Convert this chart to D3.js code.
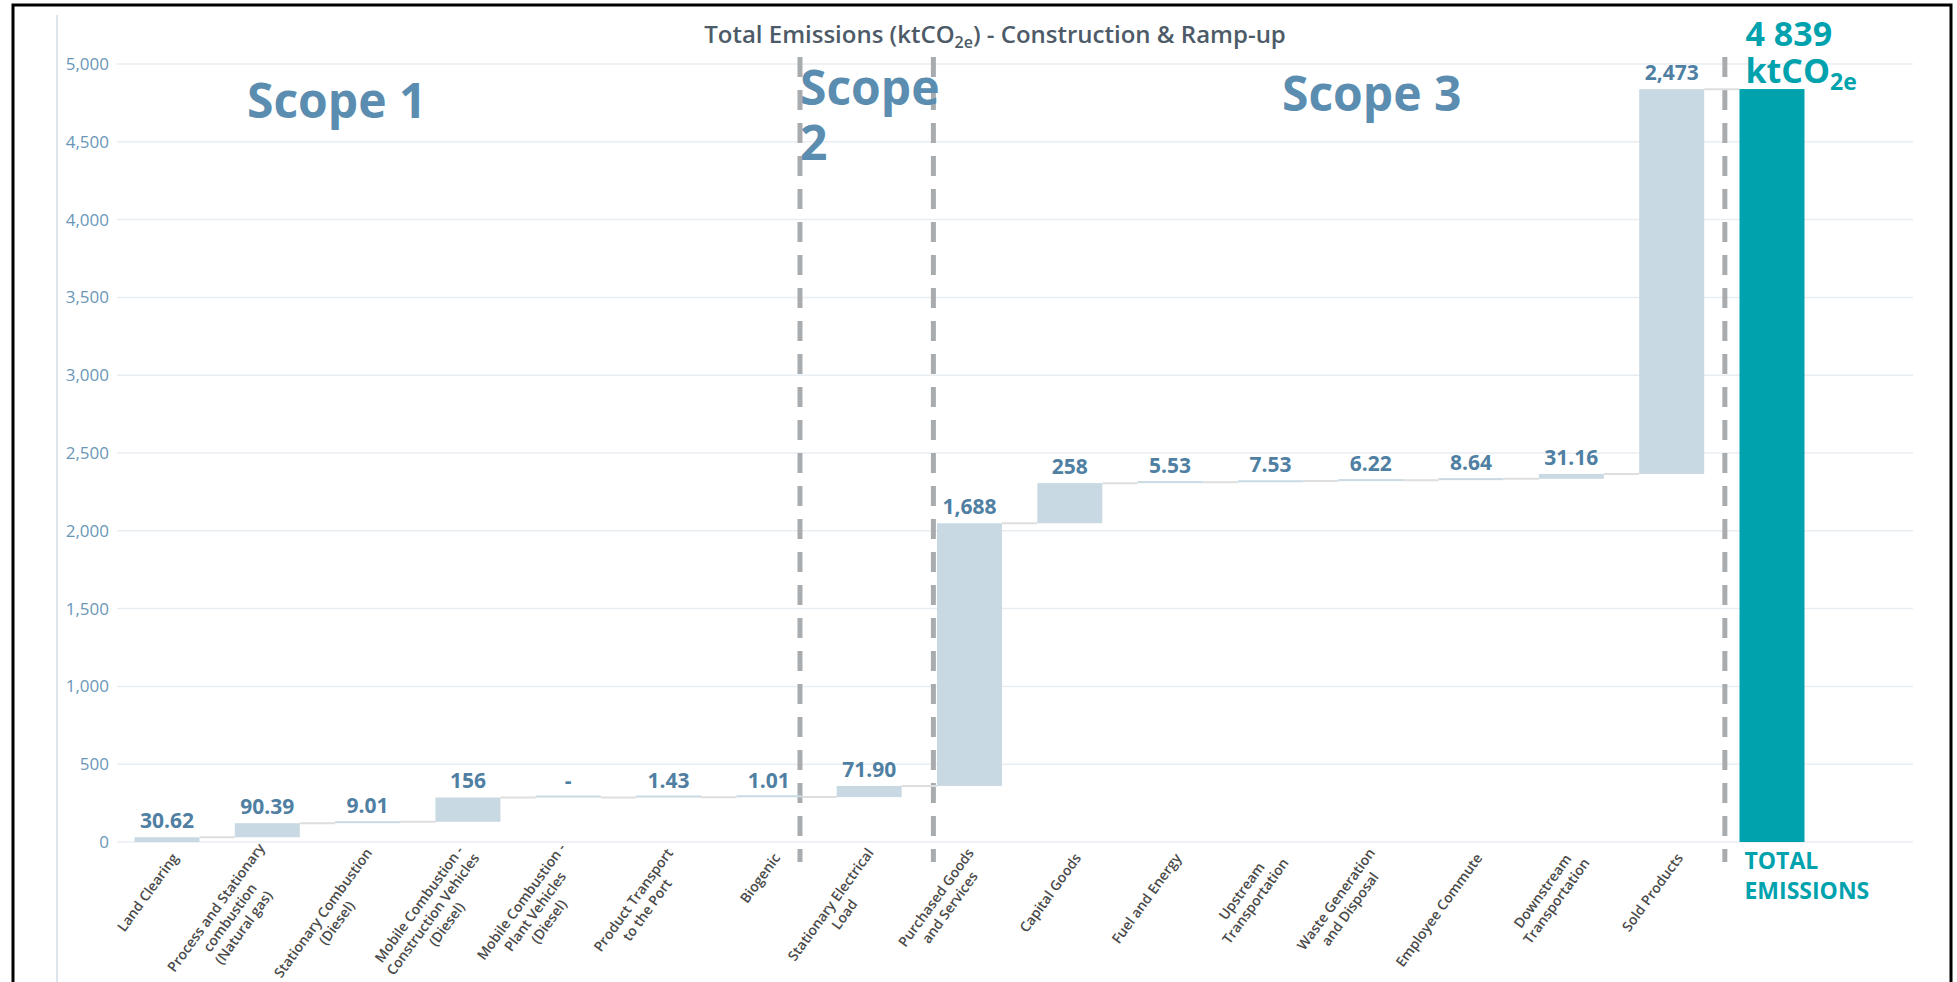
<!DOCTYPE html>
<html>
<head>
<meta charset="utf-8">
<script src="https://cdn.jsdelivr.net/npm/d3@7"></script>
<style>
  html, body { margin: 0; padding: 0; background: #fff; }
  svg { display: block; font-family: "Open Sans", "Noto Sans", sans-serif; }
</style>
</head>
<body>
<svg id="chart" width="1957" height="982"></svg>
<script>
// ---- data -------------------------------------------------------------
const categories = [
  "Land Clearing",
  "Process and Stationary combustion (Natural gas)",
  "Stationary Combustion (Diesel)",
  "Mobile Combustion - Construction Vehicles (Diesel)",
  "Mobile Combustion - Plant Vehicles (Diesel)",
  "Product Transport to the Port",
  "Biogenic",
  "Stationary Electrical Load",
  "Purchased Goods and Services",
  "Capital Goods",
  "Fuel and Energy",
  "Upstream Transportation",
  "Waste Generation and Disposal",
  "Employee Commute",
  "Downstream Transportation",
  "Sold Products"
];
// wrapped axis label lines for each category
const categoryLines = [
  ["Land Clearing"],
  ["Process and Stationary", "combustion", "(Natural gas)"],
  ["Stationary Combustion", "(Diesel)"],
  ["Mobile Combustion -", "Construction Vehicles", "(Diesel)"],
  ["Mobile Combustion -", "Plant Vehicles", "(Diesel)"],
  ["Product Transport", "to the Port"],
  ["Biogenic"],
  ["Stationary Electrical", "Load"],
  ["Purchased Goods", "and Services"],
  ["Capital Goods"],
  ["Fuel and Energy"],
  ["Upstream", "Transportation"],
  ["Waste Generation", "and Disposal"],
  ["Employee Commute"],
  ["Downstream", "Transportation"],
  ["Sold Products"]
];
const values = [30.62, 90.39, 9.01, 156, 0, 1.43, 1.01, 71.90, 1688, 258, 5.53, 7.53, 6.22, 8.64, 31.16, 2473];
const totalName = "TOTAL EMISSIONS";
const totalValue = 4839;   // reported total (ktCO2e)
const yTicks = [0, 500, 1000, 1500, 2000, 2500, 3000, 3500, 4000, 4500, 5000];
const scopeNames = ["Scope 1", "Scope 2", "Scope 3"];

// ---- colours ----------------------------------------------------------
const C = {
  bar: "#c9d9e3",
  total: "#00a2ae",
  connector: "#dedede",
  grid: "#e8edf2",
  tick: "#6a97b8",
  value: "#4f7fa2",
  scope: "#5b8db0",
  title: "#4d5b68",
  xlabel: "#4a4a4a",
  sep: "#a9acaf"
};

// ---- waterfall steps ---------------------------------------------------
let run = 0;
const steps = values.map((v, i) => {
  const s = { name: categories[i], lines: categoryLines[i], value: v, start: run, end: run + v };
  run += v;
  return s;
});

// ---- scales -----------------------------------------------------------
const svg = d3.select("#chart");
const plotLeft = 117, plotRight = 1913;
const x = d3.scaleBand()
  .domain([...categories, totalName])
  .range([116.85, 1822.15])
  .paddingInner(0.352)
  .paddingOuter(0.176);
const bw = x.bandwidth();
const cx = name => x(name) + bw / 2;
const y = d3.scaleLinear().domain([0, 5000]).range([842, 64]);

// ---- frame ------------------------------------------------------------
svg.append("path")
  .attr("d", "M13,982 V5 H1951 V982")
  .attr("fill", "none").attr("stroke", "#000").attr("stroke-width", 3);
svg.append("line")
  .attr("x1", 57).attr("x2", 57).attr("y1", 15).attr("y2", 982)
  .attr("stroke", "#dde5ec").attr("stroke-width", 2);

// ---- grid + y axis ----------------------------------------------------
const yAxis = d3.axisLeft(y).tickValues(yTicks).tickFormat(d3.format(",")).tickSize(0).tickPadding(8);
const gy = svg.append("g").attr("transform", `translate(${plotLeft},0)`).call(yAxis);
gy.select(".domain").remove();
gy.selectAll("text")
  .attr("fill", C.tick).style("font-size", "17px").style("font-family", "'Open Sans', sans-serif");
svg.append("g").selectAll("line").data(yTicks).join("line")
  .attr("x1", plotLeft).attr("x2", plotRight)
  .attr("y1", d => y(d)).attr("y2", d => y(d))
  .attr("stroke", C.grid).attr("stroke-width", 1.5);

// ---- title ------------------------------------------------------------
const title = svg.append("text")
  .attr("x", 995).attr("y", 43).attr("text-anchor", "middle")
  .attr("fill", C.title).style("font-size", "24px").style("font-weight", 600);
title.append("tspan").text("Total Emissions (ktCO");
title.append("tspan").attr("dy", 5).style("font-size", "16px").text("2e");
title.append("tspan").attr("dy", -5).text(") - Construction & Ramp-up");

// ---- scope separators -------------------------------------------------
const separators = [
  { after: categories[6], offset: 0.31 },
  { after: categories[7], offset: 0.64 },
  { after: categories[15], offset: 0.53 }
];
svg.append("g").selectAll("line").data(separators).join("line")
  .attr("x1", d => cx(d.after) + d.offset * x.step())
  .attr("x2", d => cx(d.after) + d.offset * x.step())
  .attr("y1", 57).attr("y2", 862)
  .attr("stroke", C.sep).attr("stroke-width", 5)
  .attr("stroke-dasharray", "20,13");

// ---- scope headings ---------------------------------------------------
const scopeG = svg.append("g")
  .attr("fill", C.scope).style("font-size", "48px").style("font-weight", 700);
scopeG.append("text").attr("x", 247).attr("y", 118).text(scopeNames[0]);
const s2 = scopeG.append("text").attr("x", 800).attr("y", 105);
scopeNames[1].split(" ").forEach((w, i) => {
  s2.append("tspan").attr("x", 800).attr("dy", i ? 55 : 0).text(w);
});
scopeG.append("text").attr("x", 1282).attr("y", 111).text(scopeNames[2]);

// ---- connectors -------------------------------------------------------
const order = steps.map(s => ({ name: s.name, level: s.end }));
svg.append("g").selectAll("line").data(order).join("line")
  .attr("x1", d => x(d.name) + bw)
  .attr("x2", (d, i) => x(i + 1 < order.length ? order[i + 1].name : totalName))
  .attr("y1", d => y(d.level)).attr("y2", d => y(d.level))
  .attr("stroke", C.connector).attr("stroke-width", 2);

// ---- bars -------------------------------------------------------------
svg.append("g").selectAll("rect").data(steps).join("rect")
  .attr("x", d => x(d.name))
  .attr("width", bw)
  .attr("y", d => Math.min(y(d.end), y(d.start) - 2))
  .attr("height", d => Math.max(2, y(d.start) - y(d.end)))
  .attr("fill", C.bar);

svg.append("rect")
  .attr("x", x(totalName)).attr("width", bw)
  .attr("y", y(totalValue)).attr("height", y(0) - y(totalValue))
  .attr("fill", C.total);

// ---- value labels -----------------------------------------------------
const fmtVal = v => v === 0 ? "-" : v >= 100 ? d3.format(",.0f")(v) : d3.format(".2f")(v);
svg.append("g").selectAll("text").data(steps).join("text")
  .attr("x", d => cx(d.name))
  .attr("y", d => y(d.end) - 9)
  .attr("text-anchor", "middle")
  .attr("fill", C.value)
  .style("font-size", "21px").style("font-weight", 700)
  .text(d => fmtVal(d.value));

// total callout
const totalFmt = v => d3.format(",.0f")(v).replace(/,/g, " ");
const tl = svg.append("g").attr("fill", C.total).style("font-weight", 700);
tl.append("text").attr("x", x(totalName) + 6).attr("y", 46)
  .style("font-size", "34px").text(totalFmt(totalValue));
const unit = tl.append("text").attr("x", x(totalName) + 6).attr("y", 83).style("font-size", "34px");
unit.append("tspan").text("ktCO");
unit.append("tspan").attr("dy", 7).style("font-size", "23px").text("2e");
const tn = tl.append("text").style("font-size", "23px");
totalName.split(" ").forEach((w, i) => {
  tn.append("tspan").attr("x", x(totalName) + 5).attr("y", 869 + i * 30).text(w);
});

// ---- rotated category labels ------------------------------------------
const lh = 17;
steps.forEach(s => {
  const g = svg.append("g")
    .attr("transform", `translate(${cx(s.name) + 8},855) rotate(-54)`)
    .attr("fill", C.xlabel)
    .style("font-size", "14px").style("font-weight", 600);
  const texts = s.lines.map((ln, i) => g.append("text")
    .attr("y", (i - (s.lines.length - 1) / 2) * lh)
    .attr("dy", "0.35em")
    .attr("text-anchor", "middle")
    .text(ln));
  const wMax = d3.max(texts, t => t.node().getComputedTextLength());
  texts.forEach(t => t.attr("x", -wMax / 2));
});
</script>
</body>
</html>
